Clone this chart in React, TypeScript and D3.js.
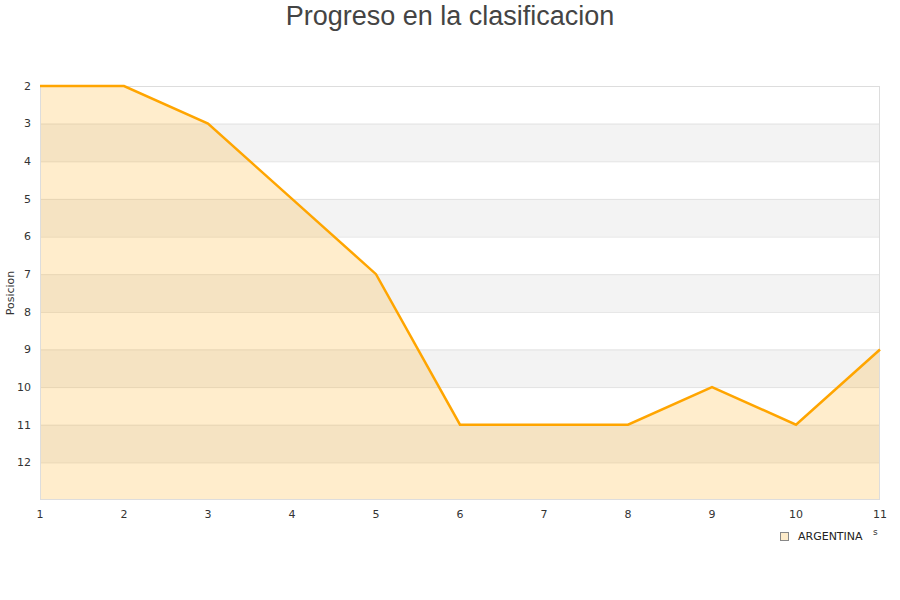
import { useEffect, useRef } from 'react';
import * as d3 from 'd3';

const jornadas = [1, 2, 3, 4, 5, 6, 7, 8, 9, 10, 11];
const posiciones = [2, 2, 3, 5, 7, 11, 11, 11, 10, 11, 9];
const yTicks = [2, 3, 4, 5, 6, 7, 8, 9, 10, 11, 12];
const serieNombre = 'ARGENTINA';

export default function App() {
  const svgRef = useRef<SVGSVGElement>(null);

  useEffect(() => {
    if (!svgRef.current) return;
    const width = 900;
    const height = 600;
    const m = { top: 86, right: 20, bottom: 100, left: 40 };

    const svg = d3.select(svgRef.current);
    svg.selectAll('*').remove();

    const x = d3.scaleLinear().domain([1, 11]).range([m.left, width - m.right]);
    const y = d3.scaleLinear().domain([2, 13]).range([m.top, height - m.bottom]);

    // alternating bands
    const bands = d3.range(2, 13);
    svg.append('g')
      .selectAll('rect')
      .data(bands)
      .join('rect')
      .attr('x', m.left)
      .attr('width', width - m.right - m.left)
      .attr('y', d => y(d))
      .attr('height', d => y(d + 1) - y(d))
      .attr('fill', d => (d % 2 === 1 ? '#f3f3f3' : '#ffffff'));

    svg.append('g')
      .selectAll('line')
      .data(d3.range(3, 13))
      .join('line')
      .attr('x1', m.left)
      .attr('x2', width - m.right)
      .attr('y1', d => y(d) + 0.5)
      .attr('y2', d => y(d) + 0.5)
      .attr('stroke', '#e2e2e2');

    const data = jornadas.map((j, i) => ({ j, p: posiciones[i] }));

    const area = d3.area<{ j: number; p: number }>()
      .x(d => x(d.j))
      .y0(y(13))
      .y1(d => y(d.p));

    svg.append('path')
      .datum(data)
      .attr('d', area)
      .attr('fill', '#ffa500')
      .attr('fill-opacity', 0.2);

    svg.append('rect')
      .attr('x', m.left + 0.5)
      .attr('y', m.top + 0.5)
      .attr('width', width - m.right - m.left - 1)
      .attr('height', height - m.bottom - m.top - 1)
      .attr('fill', 'none')
      .attr('stroke', '#dddddd');

    const line = d3.line<{ j: number; p: number }>()
      .x(d => x(d.j))
      .y(d => y(d.p));

    svg.append('path')
      .datum(data)
      .attr('d', line)
      .attr('fill', 'none')
      .attr('stroke', '#ffa500')
      .attr('stroke-width', 2.5);

    const font = 'DejaVu Sans, sans-serif';

    svg.append('g')
      .selectAll('text')
      .data(yTicks)
      .join('text')
      .attr('x', 31)
      .attr('y', d => y(d))
      .attr('dy', '0.35em')
      .attr('text-anchor', 'end')
      .style('font-family', font)
      .style('font-size', '11px')
      .style('fill', '#333')
      .text(d => d);

    svg.append('g')
      .selectAll('text')
      .data(jornadas)
      .join('text')
      .attr('x', d => x(d))
      .attr('y', 518)
      .attr('text-anchor', 'middle')
      .style('font-family', font)
      .style('font-size', '11px')
      .style('fill', '#333')
      .text(d => d);

    svg.append('text')
      .attr('transform', `translate(14,${(m.top + height - m.bottom) / 2}) rotate(-90)`)
      .attr('text-anchor', 'middle')
      .style('font-family', font)
      .style('font-size', '11px')
      .style('fill', '#333')
      .text('Posicion');

    svg.append('text')
      .attr('x', 450)
      .attr('y', 25)
      .attr('text-anchor', 'middle')
      .style('font-family', 'Liberation Sans, Arial, sans-serif')
      .style('font-size', '27px')
      .style('fill', '#444')
      .text('Progreso en la clasificacion');

    // legend
    svg.append('rect')
      .attr('x', 780.5)
      .attr('y', 532.5)
      .attr('width', 8)
      .attr('height', 8)
      .attr('fill', '#feecca')
      .attr('stroke', '#888');

    svg.append('text')
      .attr('x', 798)
      .attr('y', 540)
      .style('font-family', font)
      .style('font-size', '11px')
      .style('fill', '#222')
      .text(serieNombre);

    svg.append('text')
      .attr('x', 873)
      .attr('y', 535)
      .style('font-family', font)
      .style('font-size', '9px')
      .style('fill', '#333')
      .text('s');
  }, []);

  return (
    <div style={{ width: 900, height: 600, position: 'absolute', left: 0, top: 0 }}>
      <svg ref={svgRef} width={900} height={600} style={{ display: 'block' }} />
    </div>
  );
}
